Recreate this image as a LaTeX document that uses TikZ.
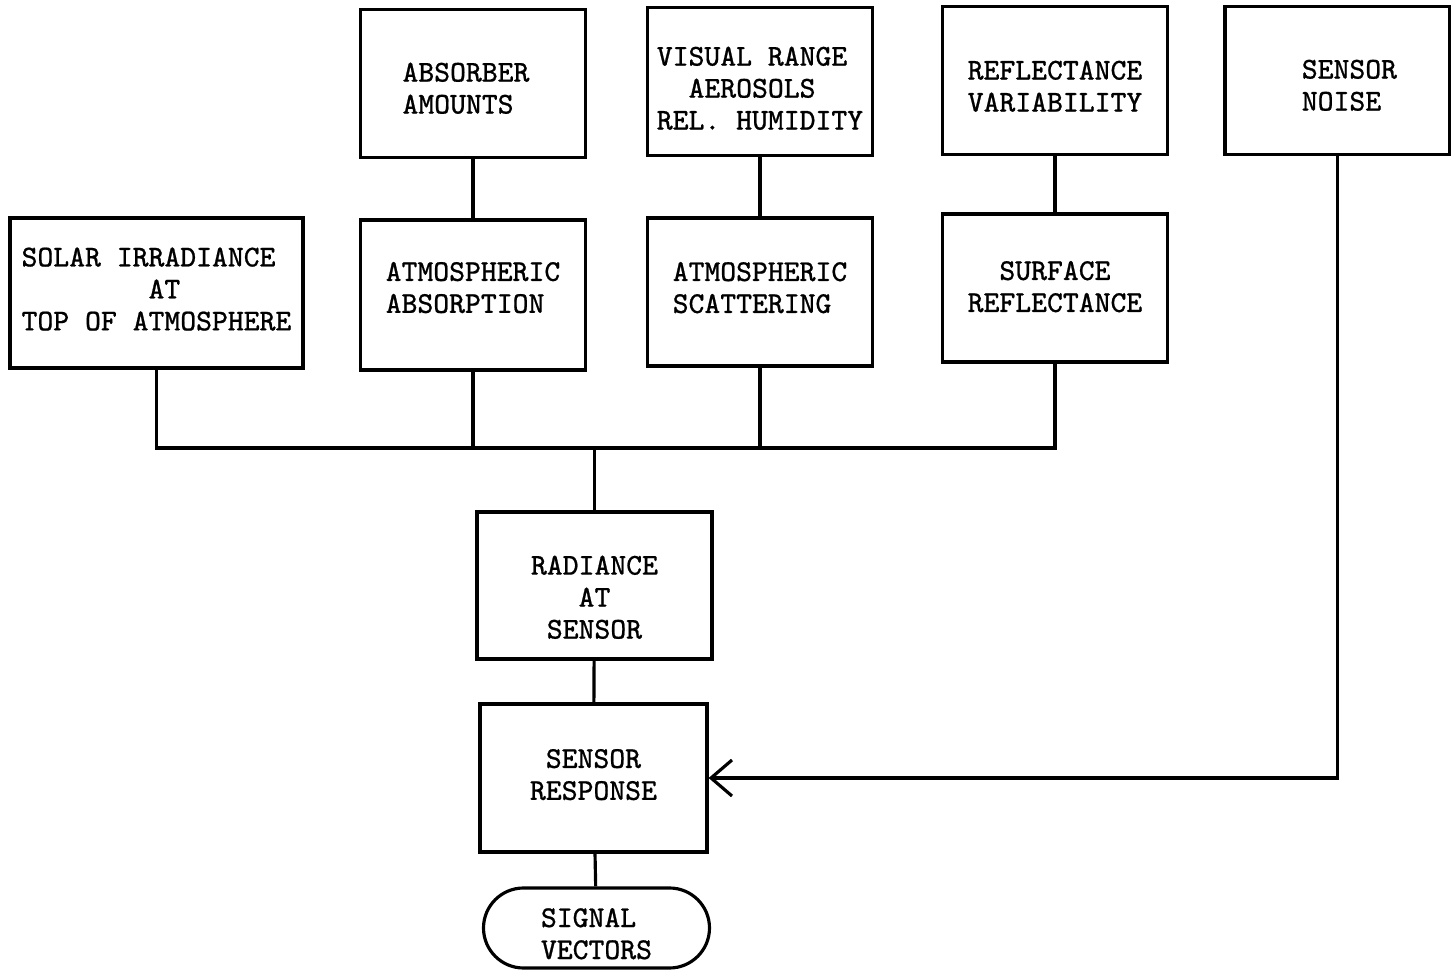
\documentclass[tikz,border=0pt]{standalone}
\usepackage{fontspec}
\newfontfamily\typefont[FakeBold=0.7]{Latin Modern Mono}
\usetikzlibrary{arrows.meta,shapes.misc}

\begin{document}
\begin{tikzpicture}[
  line width=0.9pt,
  every node/.style={font=\typefont\fontsize{8.6}{9.1}\selectfont, align=center},
  box/.style={draw, minimum width=2.25cm, minimum height=1.48cm, inner sep=0pt},
  pill/.style={draw, rounded rectangle, minimum width=2.26cm, minimum height=0.8cm, inner sep=0pt},
  tdown/.style={execute at begin node={\rule{0pt}{#1}}},
  tup/.style={execute at begin node={\rule[-#1]{0pt}{#1}}},
  tpad/.style 2 args={execute at begin node={\hspace*{#1}\rule{0pt}{#2}}},
  barb/.style={-{Straight Barb[length=2.1mm, width=3.6mm, line width=0.9pt]}}
  ]
\useasboundingbox (0,0) rectangle (14.51,9.72);

% TOP ROW
\node[box, align=left, tdown=17.2pt, execute at end node={\hspace*{4pt}}] (absorber) at (4.73,8.885)
  {ABSORBER\\AMOUNTS};
\node[box, align=left, tdown=27.45pt] (visual) at (7.60,8.905)
  {VISUAL RANGE\\\hphantom{XX}AEROSOLS\\REL. HUMIDITY};
\node[box, tdown=17.75pt] (reflvar) at (10.55,8.915) {REFLECTANCE\\VARIABILITY};
\node[box, align=left, tpad={6.8pt}{17.2pt}] (noise) at (13.375,8.915) {SENSOR\\NOISE};

% MIDDLE ROW
\node[box, align=left, tup=2.3pt, minimum width=2.93cm, minimum height=1.50cm] (solar) at (1.565,6.79)
  {SOLAR IRRADIANCE\\\hphantom{XXXXXXXX}AT\\TOP OF ATMOSPHERE};
\node[box, align=left, tup=4.3pt, minimum height=1.50cm] (absorption) at (4.73,6.77) {ATMOSPHERIC\\ABSORPTION};
\node[box, align=left, tup=2.55pt] (scattering) at (7.60,6.80) {ATMOSPHERIC\\SCATTERING};
\node[box, tup=0.85pt] (surface) at (10.55,6.84) {SURFACE\\REFLECTANCE};

% LOWER CHAIN
\node[box, tdown=30.3pt, minimum width=2.35cm, minimum height=1.47cm] (radiance) at (5.945,3.865)
  {RADIANCE\\AT\\SENSOR};
\node[box, tup=2pt, minimum width=2.27cm] (response) at (5.935,1.94) {SENSOR\\RESPONSE};
\node[pill, align=left, tdown=17.75pt] (signal) at (5.965,0.44) {SIGNAL\\VECTORS};

\coordinate (bus) at (0,5.24);

% LINES
\draw (absorber) -- (absorption);
\draw (visual) -- (scattering);
\draw (reflvar) -- (surface);

\draw (solar.south) -- (solar |- bus) -- (surface |- bus) -- (surface.south);
\draw (absorption.south) -- (absorption |- bus);
\draw (scattering.south) -- (scattering |- bus);
\draw (radiance.north) -- (radiance |- bus);

\draw (radiance) -- (response);
\draw (response) -- (signal);

% NOISE INPUT
\draw[barb] (noise.south) |- (response.east);

\end{tikzpicture}
\end{document}
